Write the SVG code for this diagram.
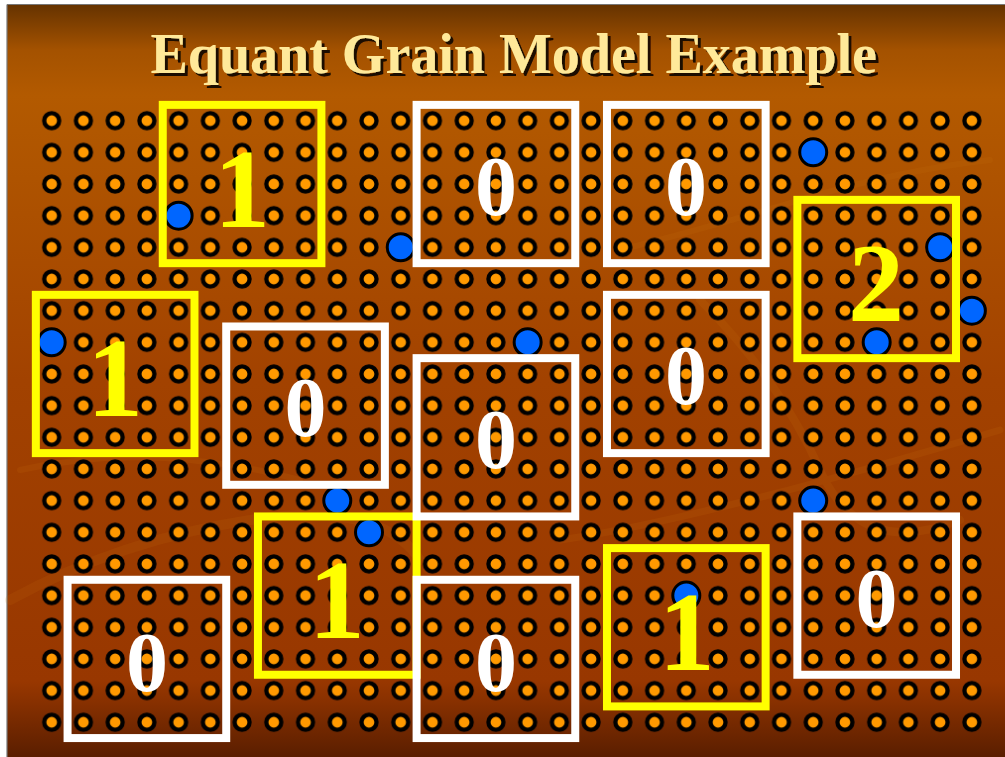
<svg xmlns="http://www.w3.org/2000/svg" width="1005" height="757" viewBox="0 0 1005 757">
<defs>
<linearGradient id="bg" x1="0" y1="0" x2="0" y2="1">
<stop offset="0" stop-color="#663300"/>
<stop offset="0.06" stop-color="#A45200"/>
<stop offset="0.12" stop-color="#B35A00"/>
<stop offset="0.5" stop-color="#A24200"/>
<stop offset="0.9" stop-color="#983700"/>
<stop offset="1" stop-color="#5A1E00"/>
</linearGradient>
<pattern id="dots" patternUnits="userSpaceOnUse" x="35.84" y="104.87" width="31.73" height="31.66">
<circle cx="15.865" cy="15.83" r="7.5" fill="#FF9900" stroke="#000" stroke-width="4.3"/>
</pattern>
<filter id="shadow" x="-5%" y="-20%" width="110%" height="150%">
<feOffset in="SourceAlpha" dx="2.5" dy="2.5" result="off"/>
<feFlood flood-color="#1A0A00"/>
<feComposite in2="off" operator="in" result="sh"/>
<feMerge><feMergeNode in="sh"/><feMergeNode in="SourceGraphic"/></feMerge>
</filter>
</defs>
<style>
.blue{fill:#0066FF;stroke:#000;stroke-width:3}
.ybox{fill:none;stroke:#FFFF00;stroke-width:8}
.wbox{fill:none;stroke:#FFFFFF;stroke-width:8}
.ylab{font-family:"Liberation Serif","Times New Roman",serif;font-weight:bold;font-size:112px;fill:#FFFF00;text-anchor:middle}
.wlab{font-family:"Liberation Serif","Times New Roman",serif;font-weight:bold;font-size:84px;fill:#FFFFFF;text-anchor:middle}
.title{font-family:"Liberation Serif","Times New Roman",serif;font-weight:bold;font-size:56px;text-anchor:middle;fill:#FFE999}
</style>
<rect x="0" y="0" width="1005" height="757" fill="#FFFFFF"/>
<rect x="7" y="5" width="998" height="752" fill="url(#bg)"/>
<line x1="7" y1="4.5" x2="1005" y2="4.5" stroke="#777" stroke-width="1.2"/>
<line x1="7" y1="4.5" x2="7" y2="757" stroke="#777" stroke-width="1.2"/>
<g id="texture" fill="none" stroke="#D07A10" stroke-linecap="round" opacity="0.12">
<path d="M10 600 Q120 540 250 520 T420 560" stroke-width="10"/>
<path d="M700 300 Q780 380 820 470 T960 520" stroke-width="8"/>
<path d="M620 250 Q700 230 800 200 T990 160" stroke-width="6"/>
<path d="M20 470 Q150 440 300 480" stroke-width="6"/>
<path d="M560 540 Q700 520 1000 430" stroke-width="7"/>
</g>
<text class="title" x="513.7" y="72.7" filter="url(#shadow)">Equant Grain Model Example</text>
<rect id="grid" x="35.84" y="104.87" width="951.9" height="633.2" fill="url(#dots)"/>
<g id="blue-dots">
<circle class="blue" cx="178.62" cy="215.68" r="13.5"/>
<circle class="blue" cx="400.73" cy="247.34" r="13.5"/>
<circle class="blue" cx="813.22" cy="152.36" r="13.5"/>
<circle class="blue" cx="940.14" cy="247.34" r="13.5"/>
<circle class="blue" cx="971.87" cy="310.66" r="13.5"/>
<circle class="blue" cx="876.68" cy="342.32" r="13.5"/>
<circle class="blue" cx="51.7" cy="342.32" r="13.5"/>
<circle class="blue" cx="527.65" cy="342.32" r="13.5"/>
<circle class="blue" cx="337.27" cy="500.62" r="13.5"/>
<circle class="blue" cx="369.0" cy="532.28" r="13.5"/>
<circle class="blue" cx="813.22" cy="500.62" r="13.5"/>
<circle class="blue" cx="686.3" cy="595.6" r="13.5"/>
</g>
<g id="connectors"/>
<g id="grain-1a"><rect class="ybox" x="162.76" y="104.87" width="158.65" height="158.3"/><text class="ylab" x="242" y="227">1</text></g>
<g id="grain-2"><rect class="ybox" x="797.36" y="199.85" width="158.65" height="158.3"/><text class="ylab" x="876" y="321">2</text></g>
<g id="grain-1b"><rect class="ybox" x="35.84" y="294.83" width="158.65" height="158.3"/><text class="ylab" x="115" y="416">1</text></g>
<g id="grain-1c"><rect class="ybox" x="257.95" y="516.45" width="158.65" height="158.3"/><text class="ylab" x="336.7" y="638">1</text></g>
<g id="grain-1d"><rect class="ybox" x="606.98" y="548.11" width="158.65" height="158.3"/><text class="ylab" x="686.7" y="670">1</text></g>
<g id="grain-0a"><rect class="wbox" x="416.6" y="104.87" width="158.65" height="158.3"/><text class="wlab" x="496" y="215">0</text></g>
<g id="grain-0b"><rect class="wbox" x="606.98" y="104.87" width="158.65" height="158.3"/><text class="wlab" x="686" y="215">0</text></g>
<g id="grain-0c"><rect class="wbox" x="226.22" y="326.49" width="158.65" height="158.3"/><text class="wlab" x="305.5" y="436">0</text></g>
<g id="grain-0d"><rect class="wbox" x="416.6" y="358.15" width="158.65" height="158.3"/><text class="wlab" x="496" y="468">0</text></g>
<g id="grain-0e"><rect class="wbox" x="606.98" y="294.83" width="158.65" height="158.3"/><text class="wlab" x="686" y="404">0</text></g>
<g id="grain-0f"><rect class="wbox" x="67.57" y="579.77" width="158.65" height="158.3"/><text class="wlab" x="147" y="691">0</text></g>
<g id="grain-0g"><rect class="wbox" x="416.6" y="579.77" width="158.65" height="158.3"/><text class="wlab" x="496" y="691">0</text></g>
<g id="grain-0h"><rect class="wbox" x="797.36" y="516.45" width="158.65" height="158.3"/><text class="wlab" x="876.5" y="627">0</text></g>
</svg>
